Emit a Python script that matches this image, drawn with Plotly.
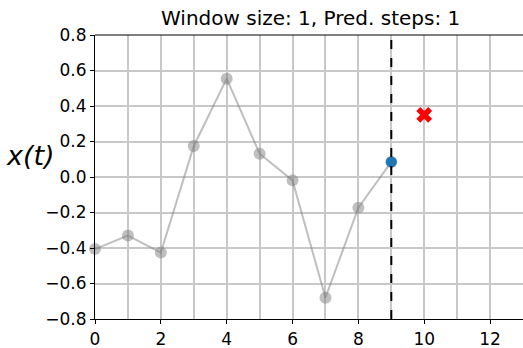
import plotly.graph_objects as go

t_hist = [0, 1, 2, 3, 4, 5, 6, 7, 8, 9]
x_hist = [-0.406, -0.33, -0.426, 0.175, 0.554, 0.131, -0.019, -0.68, -0.173, 0.085]
t_last = [9]
x_last = [0.085]
t_pred = [10]
x_pred = [0.35]
x_ticks = [0, 2, 4, 6, 8, 10, 12]
y_ticks = [-0.8, -0.6, -0.4, -0.2, 0.0, 0.2, 0.4, 0.6, 0.8]
y_ticklabels = ["\u22120.8", "\u22120.6", "\u22120.4", "\u22120.2", "0.0", "0.2", "0.4", "0.6", "0.8"]
title = "Window size: 1, Pred. steps: 1"
ylabel = "x(t)"

FONT = "DejaVu Sans"

fig = go.Figure()
fig.add_trace(go.Scatter(
    x=t_hist, y=x_hist, mode="lines+markers",
    line=dict(color="rgba(128,128,128,0.5)", width=2),
    marker=dict(color="rgba(128,128,128,0.5)", size=12),
    showlegend=False, cliponaxis=False))
fig.add_trace(go.Scatter(
    x=t_last, y=x_last, mode="markers",
    marker=dict(color="#1f77b4", size=11),
    showlegend=False, cliponaxis=False))
fig.add_trace(go.Scatter(
    x=t_pred, y=x_pred, mode="markers",
    marker=dict(color="red", size=14, symbol="x", line=dict(width=0)),
    showlegend=False))

fig.add_shape(type="line", xref="x", yref="paper", x0=t_last[0], x1=t_last[0], y0=0, y1=1,
              line=dict(color="black", width=2, dash="dash"))
fig.add_shape(type="line", xref="paper", yref="paper", x0=0, x1=1, y0=1, y1=1,
              line=dict(color="black", width=1))

fig.update_layout(
    width=523, height=348,
    margin=dict(l=95, r=0, t=35, b=29, autoexpand=False),
    plot_bgcolor="white", paper_bgcolor="white",
    font=dict(family=FONT, color="black", size=17),
    title=dict(text=title, x=0.594, xanchor="center", y=0.947, yanchor="middle",
               font=dict(family=FONT, size=20, color="black")),
    xaxis=dict(range=[0, 13], tickvals=x_ticks, showgrid=True, gridcolor="#c8c8c8", gridwidth=1.5,
               minor=dict(dtick=1, tick0=0, showgrid=True, gridcolor="#c8c8c8", gridwidth=1.5),
               showline=True, linecolor="black", linewidth=1.2, ticks="outside", ticklen=4,
               tickcolor="black", zeroline=False, tickfont=dict(size=17), automargin=False),
    yaxis=dict(range=[-0.8, 0.8], tickvals=y_ticks, ticktext=y_ticklabels, showgrid=True,
               gridcolor="#c8c8c8", gridwidth=1.5, showline=True, linecolor="black", linewidth=1.2,
               ticks="outside", ticklen=4, tickcolor="black", zeroline=False, tickfont=dict(size=17),
               automargin=False),
    annotations=[dict(text="<i>" + ylabel + "</i>", xref="paper", yref="paper", x=-0.088, y=0.575,
                      xanchor="right", yanchor="middle", showarrow=False,
                      font=dict(family=FONT, size=27, color="black"))],
)

fig.write_html("out.html", config={"displayModeBar": False},
               post_script="document.body.style.margin='0';document.body.style.padding='0';document.body.style.overflow='hidden';")
